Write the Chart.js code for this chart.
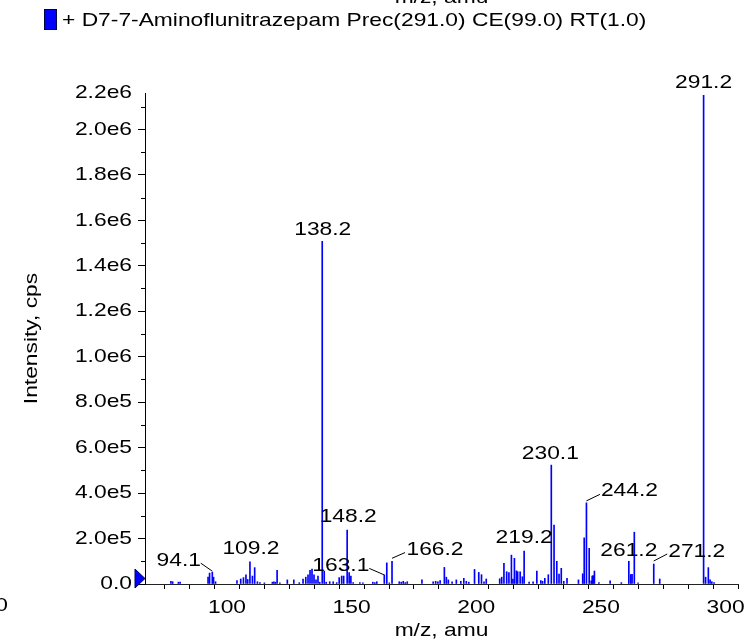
<!DOCTYPE html>
<html><head><meta charset="utf-8">
<script src="https://cdn.jsdelivr.net/npm/chart.js@4/dist/chart.umd.min.js"></script>
<style>html,body{margin:0;padding:0;background:#fff}canvas{display:block}</style>
</head><body>
<canvas id="c" width="749" height="642"></canvas>
<script>
// ---------------- data ----------------
const seriesName = '+ D7-7-Aminoflunitrazepam Prec(291.0) CE(99.0) RT(1.0)';
const mzValues = [
  77.5, 78.2, 80.5, 81.2, 92.4, 93.0, 94.1, 94.6, 95.4, 104.0,
  105.5, 106.6, 107.6, 108.3, 109.2, 110.2, 111.1, 112.2, 113.2, 115.0,
  118.2, 118.8, 119.4, 120.1, 121.2, 124.2, 126.8, 129.0, 130.5, 131.6,
  132.5, 133.3, 134.1, 134.9, 135.7, 136.5, 137.2, 138.2, 139.0, 139.8,
  141.2, 142.6, 144.0, 145.0, 146.0, 146.8, 148.2, 149.0, 149.7, 150.6,
  153.3, 154.5, 158.5, 159.3, 160.1, 163.1, 164.1, 165.1, 166.2, 169.1,
  169.9, 170.7, 171.5, 172.3, 178.2, 182.7, 183.7, 184.6, 185.5, 187.2,
  188.0, 188.8, 190.3, 192.0, 193.8, 195.0, 196.0, 197.0, 199.3, 201.0,
  202.1, 203.1, 204.0, 209.4, 210.2, 211.1, 212.2, 213.1, 214.1, 214.7,
  215.3, 216.1, 216.6, 217.6, 218.5, 219.2, 221.2, 222.8, 224.3, 225.9,
  226.6, 227.5, 228.9, 230.1, 231.2, 232.3, 233.2, 234.1, 235.1, 236.4,
  241.0, 242.7, 243.3, 244.2, 245.3, 246.1, 246.5, 246.9, 247.4, 249.2,
  253.7, 258.2, 261.2, 262.0, 262.5, 263.4, 264.9, 271.2, 273.6, 291.2,
  292.0, 293.1, 293.8, 294.5, 295.4
];
const intensities = [
  12000, 10000, 8000, 8000, 30000, 48000, 52000, 30000, 10000, 15000,
  22000, 28000, 40000, 20000, 98000, 35000, 72000, 10000, 6000, 5000,
  8000, 10000, 8000, 60000, 5000, 18000, 18000, 6000, 22000, 30000,
  40000, 60000, 66000, 40000, 18000, 35000, 8000, 1508000, 57000, 8000,
  10000, 10000, 6000, 28000, 35000, 35000, 237000, 50000, 35000, 6000,
  6000, 5000, 8000, 6000, 10000, 40000, 93000, 5000, 100000, 10000,
  8000, 12000, 6000, 10000, 18000, 10000, 12000, 10000, 15000, 73000,
  30000, 18000, 10000, 18000, 12000, 25000, 12000, 8000, 64000, 51000,
  41000, 10000, 22000, 23000, 30000, 91000, 54000, 50000, 127000, 22000,
  113000, 58000, 54000, 54000, 32000, 145000, 8000, 10000, 57000, 15000,
  12000, 25000, 41000, 523000, 259000, 100000, 44000, 69000, 12000, 25000,
  18000, 45000, 203000, 357000, 157000, 14000, 35000, 37000, 57000, 6000,
  14000, 6000, 100000, 42000, 42000, 228000, 5000, 88000, 22000, 2150000,
  30000, 72000, 18000, 10000, 6000
];
const peakLabels = [94.1, 109.2, 138.2, 148.2, 163.1, 166.2, 219.2, 230.1, 244.2, 261.2, 271.2, 291.2];
const xTickValues = [100, 150, 200, 250, 300];
const xTickLabels = ['100', '150', '200', '250', '300'];
const xMinorTicks = [70, 80, 90, 110, 120, 130, 140, 160, 170, 180, 190, 210, 220, 230, 240, 260, 270, 280, 290];
const yTickValues = [0, 200000, 400000, 600000, 800000, 1000000, 1200000, 1400000, 1600000, 1800000, 2000000];
const yTickLabels = ['0.0', '2.0e5', '4.0e5', '6.0e5', '8.0e5', '1.0e6', '1.2e6', '1.4e6', '1.6e6', '1.8e6', '2.0e6'];
const yTopLabel = '2.2e6';
const yMinorTicks = [100000, 300000, 500000, 700000, 900000, 1100000, 1300000, 1500000, 1700000, 1900000, 2100000];
const xTitle = 'm/z, amu';
const yTitle = 'Intensity, cps';
const neighbourTexts = ['300', 'm/z, amu'];

// ---------------- layout / style ----------------
const X_MIN = 67.1, X_MAX = 305.0, Y_MAX = 2160000;
const FONT = 'Liberation Sans, Arial, Helvetica, sans-serif';
const FONT_SIZE = 19;
const TEXT_STRETCH = 1.2;
const BLUE = '#0000ff';
const labelPlacement = {
  '291.2': {dx: 0, dy: -12.5},
  '138.2': {dx: 0.5, dy: -11},
  '230.1': {dx: -1, dy: -11},
  '148.2': {dx: 1, dy: -13.5},
  '109.2': {dx: 1, dy: -12.7},
  '219.2': {dx: 0, dy: -13},
  '261.2': {dx: 0, dy: -11},
  '244.2': {dx: 43, dy: -12, leader: [0, -2, 13.5, -8.5]},
  '271.2': {dx: 43, dy: -12, leader: [0, -3, 13.5, -10]},
  '94.1':  {dx: -33.5, dy: -11.5, leader: [-11.5, -9, 0, -1]},
  '163.1': {dx: -43.5, dy: -9.5, leader: [-15, -6.5, 0, 0]},
  '166.2': {dx: 43, dy: -11.7, leader: [0, -3, 13, -8.7]}
};

const canvas = document.getElementById('c');
const ctx0 = canvas.getContext('2d');
// reference text is drawn horizontally widened; emulate it for every text draw
const rawFillText = ctx0.fillText;
ctx0.fillText = function (text, x, y, maxWidth) {
  this.save();
  this.translate(x, y);
  this.scale(TEXT_STRETCH, 1);
  if (maxWidth === undefined || maxWidth === null) rawFillText.call(this, text, 0, 0);
  else rawFillText.call(this, text, 0, 0, maxWidth / TEXT_STRETCH);
  this.restore();
};

Chart.defaults.font.family = FONT;
Chart.defaults.font.size = FONT_SIZE;
Chart.defaults.color = '#000';

const decorations = {
  id: 'decorations',
  afterDraw(chart) {
    const {ctx, scales: {x, y}} = chart;
    const font = FONT_SIZE + 'px ' + FONT;
    ctx.save();
    // minor y ticks
    ctx.strokeStyle = '#000';
    ctx.lineWidth = 1;
    yMinorTicks.forEach(v => {
      const py = Math.round(y.getPixelForValue(v)) + 0.5;
      ctx.beginPath();
      ctx.moveTo(x.left - 4, py);
      ctx.lineTo(x.left, py);
      ctx.stroke();
    });
    // zero marker triangle
    const zy = y.getPixelForValue(0) - 5.5;
    ctx.beginPath();
    ctx.moveTo(x.left - 10, zy - 9.5);
    ctx.lineTo(x.left, zy);
    ctx.lineTo(x.left - 10, zy + 9.5);
    ctx.closePath();
    ctx.fillStyle = BLUE;
    ctx.fill();
    ctx.strokeStyle = '#000066';
    ctx.stroke();
    // peak labels
    ctx.font = font;
    ctx.fillStyle = '#000';
    ctx.textAlign = 'center';
    ctx.textBaseline = 'middle';
    peakLabels.forEach(mz => {
      const i = mzValues.indexOf(mz);
      const key = mz.toFixed(1);
      const p = labelPlacement[key];
      const px = x.getPixelForValue(mz);
      const py = y.getPixelForValue(intensities[i]);
      ctx.fillText(key, px + p.dx, py + p.dy);
      if (p.leader) {
        ctx.beginPath();
        ctx.strokeStyle = '#000';
        ctx.moveTo(px + p.leader[0], py + p.leader[1]);
        ctx.lineTo(px + p.leader[2], py + p.leader[3]);
        ctx.stroke();
      }
    });
    // legend
    const label = chart.data.datasets[0].label;
    ctx.fillStyle = BLUE;
    ctx.fillRect(44, 9, 13, 21);
    ctx.strokeStyle = '#000044';
    ctx.strokeRect(44.5, 9.5, 12, 20);
    ctx.fillStyle = '#000';
    ctx.textAlign = 'left';
    ctx.fillText(label, 62, 21);
    // pieces of neighbouring panels cut by the frame
    ctx.textAlign = 'right';
    ctx.fillText(neighbourTexts[0], 8, 606);
    ctx.textAlign = 'center';
    ctx.textBaseline = 'alphabetic';
    ctx.fillText(neighbourTexts[1], (x.left + x.right) / 2, 2.5);
    ctx.restore();
  }
};

new Chart(canvas, {
  type: 'bar',
  data: {
    datasets: [{
      label: seriesName,
      data: mzValues.map((m, i) => ({x: m, y: intensities[i]})),
      backgroundColor: BLUE,
      borderWidth: 0,
      barThickness: 1
    }]
  },
  options: {
    responsive: false,
    animation: false,
    devicePixelRatio: 1,
    layout: {padding: {left: 0, right: 11, top: 93, bottom: 0}},
    plugins: {legend: {display: false}, tooltip: {enabled: false}},
    scales: {
      x: {
        type: 'linear',
        offset: false,
        min: X_MIN,
        max: X_MAX,
        afterBuildTicks: s => {
          s.ticks = xMinorTicks.concat(xTickValues).sort((a, b) => a - b).map(v => ({value: v}));
        },
        afterFit: s => { s.height = 58; },
        ticks: {
          autoSkip: false,
          maxRotation: 0,
          padding: 7,
          callback: v => { const i = xTickValues.indexOf(v); return i >= 0 ? xTickLabels[i] : ''; }
        },
        grid: {drawOnChartArea: false, drawTicks: true, tickLength: 5, tickColor: '#000'},
        border: {display: true, color: '#222', width: 1},
        title: {display: true, text: xTitle, padding: {top: 0, bottom: 0}}
      },
      y: {
        type: 'linear',
        min: 0,
        max: Y_MAX,
        afterBuildTicks: s => {
          s.ticks = yTickValues.concat([Y_MAX]).map(v => ({value: v}));
        },
        afterFit: s => { s.width = 145; },
        ticks: {
          autoSkip: false,
          padding: 6,
          callback: v => { const i = yTickValues.indexOf(v); return i >= 0 ? yTickLabels[i] : (v === Y_MAX ? yTopLabel : ''); }
        },
        grid: {
          drawOnChartArea: false, drawTicks: true, tickLength: 7,
          tickColor: c => (c.tick && c.tick.value === Y_MAX) ? 'rgba(0,0,0,0)' : '#000'
        },
        border: {display: true, color: '#000', width: 1},
        title: {display: true, text: yTitle, padding: {top: 20, bottom: 0}}
      }
    }
  },
  plugins: [decorations]
});
</script>
</body></html>
